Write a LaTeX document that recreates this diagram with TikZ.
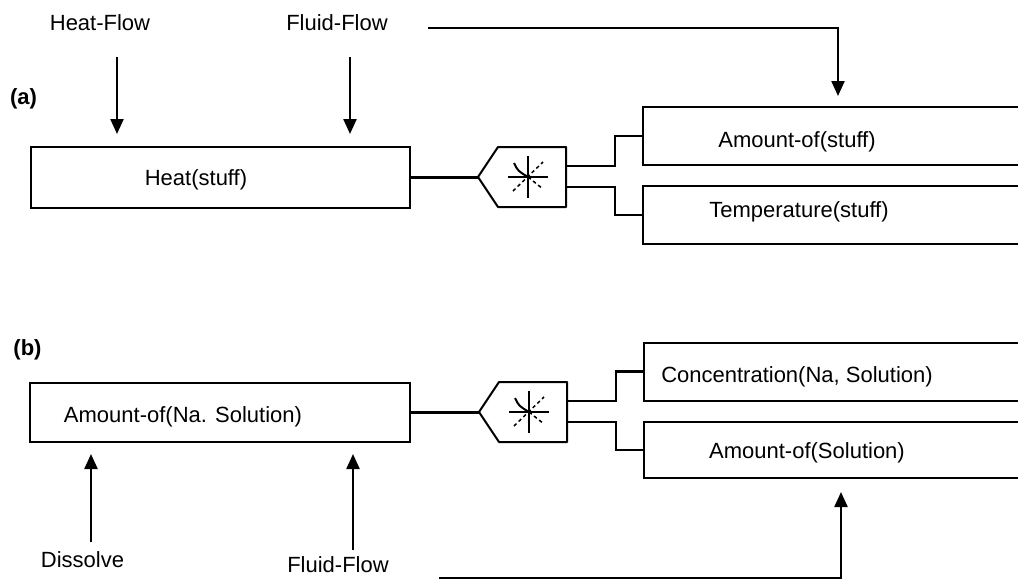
\documentclass[tikz,border=0pt]{standalone}
\usepackage{fontspec}
\setmainfont{Liberation Sans}
\usetikzlibrary{arrows.meta}
\begin{document}
\begin{tikzpicture}[x=1pt,y=-1pt,
  every node/.style={font=\fontsize{22}{26}\selectfont, inner sep=0pt},
  ln/.style={line width=2.3pt},
  box/.style={draw, line width=2pt, rectangle, inner sep=0pt},
  arr/.style={line width=2.3pt, -{Triangle[length=15pt,width=13pt]}},
  lbl/.style={anchor=base},
  opsym/.pic={
    \draw[line width=2pt, line join=round] (-54,0) -- (-34,-30) -- (34,-30) -- (34,30) -- (-34,30) -- cycle;
    \coordinate (-tip) at (-54,0);
    \coordinate (-ru) at (34,-11);
    \coordinate (-rl) at (34,10);
    \draw[line width=2.3pt] (-24,0) -- (16,0);
    \draw[line width=2.3pt] (-4,-21) -- (-4,21);
    \draw[line width=1.5pt, dash pattern=on 3.5pt off 3pt] (-19,14) -- (11,-15);
    \draw[line width=2pt] (-18,-14) .. controls (-14,-6) .. (-4,0);
    \draw[line width=1.5pt, dash pattern=on 3.5pt off 3pt] (-4,0) -- (11,12);
  }]
\useasboundingbox (0,0) rectangle (1018,581);
\clip (0,0) rectangle (1018,581);

% ---------- panel (a) ----------
\node[lbl, font=\fontsize{22}{26}\selectfont\bfseries] (la) at (23.5,104) {(a)};
\node[lbl] (hfl) at (100,30) {Heat-Flow};
\node[lbl] (ffl) at (337,30) {Fluid-Flow};

\node[box, minimum width=379pt, minimum height=61pt] (heat) at (220.5,177.5) {};
\node[lbl] (heatt) at (196,185) {Heat(stuff)};

\pic (opa) at (532,177) {opsym};

\node[box, minimum width=420pt, minimum height=58pt] (amt) at (853,136) {};
\node[lbl] (amtt) at (797,147) {Amount-of(stuff)};
\node[box, minimum width=420pt, minimum height=58pt] (temp) at (853,215) {};
\node[lbl] (tempt) at (799,217) {Temperature(stuff)};

\coordinate (hfs) at (117,57);
\coordinate (ffs) at (350,57);
\coordinate (ffa) at (428,28);
\draw[arr, shorten >=12pt] (hfs) -- (hfs |- heat.north);
\draw[arr, shorten >=12pt] (ffs) -- (ffs |- heat.north);
\draw[arr, shorten >=10pt] (ffa) -| ([xshift=196pt]amt.north west);

\draw[ln] (heat.east) -- (heat.east -| opa-tip);
\draw[ln, line join=miter] (opa-ru) -- ++(49,0) |- (amt.west);
\draw[ln, line join=miter] (opa-rl) -- ++(49,0) |- (temp.west);

% ---------- panel (b) ----------
\node[lbl, font=\fontsize{22}{26}\selectfont\bfseries] (lb) at (27.5,355) {(b)};

\node[box, minimum width=380pt, minimum height=59pt] (naamt) at (220,412.5) {};
\node[lbl] (naamtt) at (183,422) {Amount-of(Na. Solution)};

\pic (opb) at (533,412) {opsym};

\node[box, minimum width=420pt, minimum height=58pt] (conc) at (854,371.5) {};
\node[lbl] (conct) at (797,382) {Concentration(Na, Solution)};
\node[box, minimum width=420pt, minimum height=56pt] (amts) at (854,450) {};
\node[lbl] (amtst) at (807,458) {Amount-of(Solution)};

\node[lbl] (dsl) at (82.5,567) {Dissolve};
\node[lbl] (ffbl) at (338,572) {Fluid-Flow};

\coordinate (dss) at (91,542);
\coordinate (ffbs) at (353,550);
\coordinate (ffb) at (439,578);
\draw[arr, shorten >=11pt] (dss) -- (dss |- naamt.south);
\draw[arr, shorten >=11pt] (ffbs) -- (ffbs |- naamt.south);
\draw[arr, shorten >=13pt] (ffb) -| ([xshift=198pt]amts.south west);

\draw[ln] (naamt.east) -- (naamt.east -| opb-tip);
\draw[ln, line join=miter] (opb-ru) -- ++(49,0) |- (conc.west);
\draw[ln, line join=miter] (opb-rl) -- ++(49,0) |- (amts.west);
\end{tikzpicture}
\end{document}
